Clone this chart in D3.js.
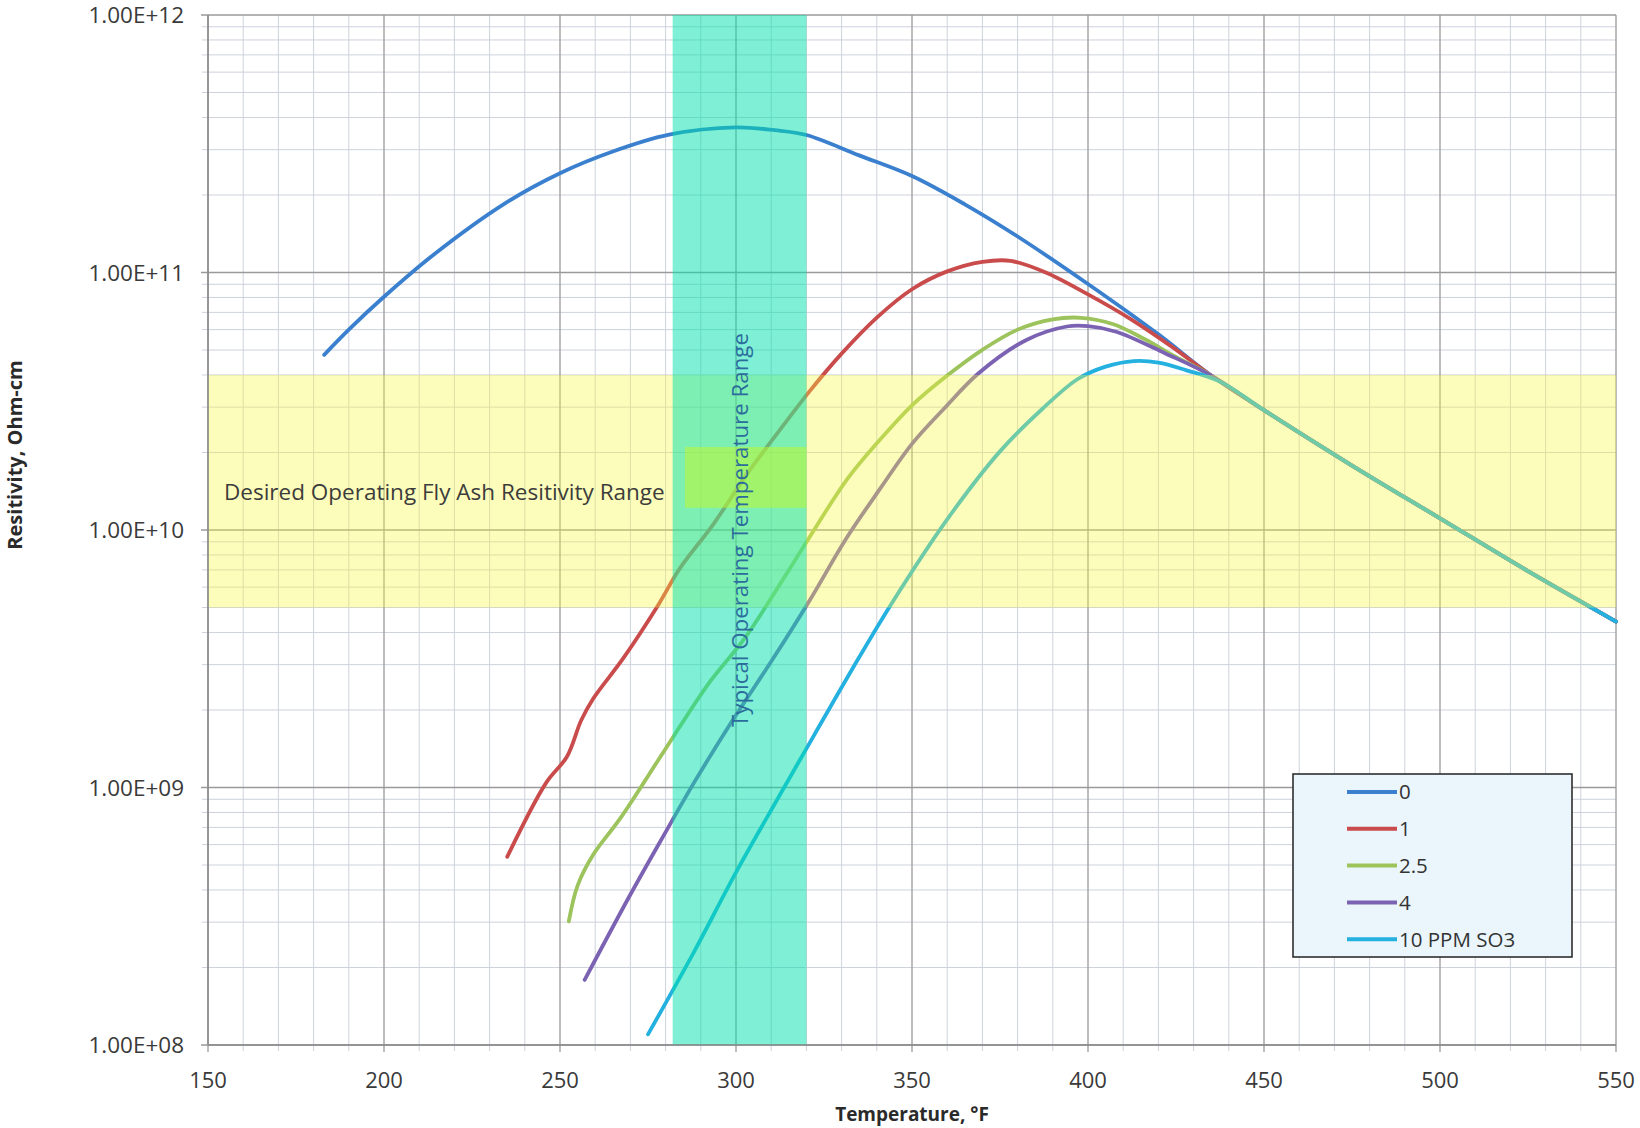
<!DOCTYPE html>
<html>

<head>
    <meta charset="UTF-8">
    <style>
        body { margin: 0; background: #fff; }
        svg { display: block; font-family: "Open Sans", sans-serif; }
    </style>
</head>

<body>
    <svg></svg>
    <script src="https://d3js.org/d3.v7.min.js"></script>

    <script>
        // series values (temperature °F, resistivity ohm-cm)
        let seriesNames = ["0", "1", "2.5", "4", "10 PPM SO3"];
        let seriesColors = ["#3a80cf", "#c94b4b", "#9cc35c", "#7c62b2", "#25b1e0"];

        let temps0 = [183, 190, 200, 214, 234.5, 250, 265, 281, 300, 311, 320, 335, 350, 365, 380, 400, 420, 435];
        let res0 = [4.79e10, 6.0e10, 8.05e10, 1.17e11, 1.86e11, 2.43e11, 2.95e11, 3.43e11, 3.66e11, 3.57e11, 3.42e11,
            2.85e11, 2.37e11, 1.84e11, 1.38e11, 9.02e10, 5.75e10, 3.98e10];

        let temps1 = [235, 246, 252, 256, 259.5, 268, 278, 284, 293.5, 303, 312, 321, 330, 340, 350, 360, 370, 378, 388, 400, 412, 424, 435];
        let res1 = [5.38e8, 1.04e9, 1.32e9, 1.82e9, 2.22e9, 3.18e9, 5.14e9, 7.08e9, 1.05e10, 1.64e10, 2.40e10, 3.47e10,
            4.84e10, 6.68e10, 8.61e10, 1.01e11, 1.10e11, 1.11e11, 1.0e11, 8.22e10, 6.61e10, 5.13e10, 3.98e10];

        let temps2 = [252.5, 255, 259.5, 267, 279.5, 292, 303, 320, 331.5, 341, 350, 360, 370, 380, 390, 398, 407, 416, 425, 435];
        let res2 = [3.02e8, 4.16e8, 5.5e8, 7.55e8, 1.38e9, 2.51e9, 3.89e9, 8.97e9, 1.57e10, 2.25e10, 3.05e10, 3.98e10,
            5.01e10, 6.0e10, 6.58e10, 6.67e10, 6.31e10, 5.52e10, 4.70e10, 3.98e10];

        let temps3 = [257, 270, 280, 288, 299, 310.5, 321, 331.5, 341, 350, 359, 369, 382.5, 394, 400, 408, 422, 435];
        let res3 = [1.79e8, 3.84e8, 6.71e8, 1.04e9, 1.82e9, 3.16e9, 5.35e9, 9.35e9, 1.45e10, 2.16e10, 2.95e10, 4.07e10,
            5.47e10, 6.17e10, 6.19e10, 5.89e10, 4.85e10, 3.98e10];

        let temps4 = [275, 288, 300, 312, 322, 333, 344, 360, 375, 387, 397, 405, 413, 420, 428, 437.5];
        let res4 = [1.1e8, 2.29e8, 4.68e8, 9.12e8, 1.58e9, 2.88e9, 5.13e9, 1.10e10, 2.02e10, 2.95e10, 3.85e10, 4.31e10,
            4.53e10, 4.47e10, 4.17e10, 3.77e10];

        // all curves share the same line above ~440 °F
        let tailTemps = [450, 475, 500, 525, 550];
        let tailRes = [2.92e10, 1.78e10, 1.11e10, 6.92e9, 4.41e9];

        // shaded ranges
        let tempRange = [282, 320];
        let resRange = [5e9, 4e10];
        let boxTemps = [285.5, 320];
        let boxRes = [1.22e10, 2.1e10];

        let xTicks = [150, 200, 250, 300, 350, 400, 450, 500, 550];
        let yTicks = [1e8, 1e9, 1e10, 1e11, 1e12];

        let width = 1640, height = 1128;

        let svg = d3.select("svg")
            .attr("width", width)
            .attr("height", height);

        let x = d3.scaleLinear().domain([150, 550]).range([208, 1616]);
        let y = d3.scaleLog().domain([1e8, 1e12]).range([1045, 15]);

        // grid values
        let minorX = d3.range(160, 550, 10).filter(t => t % 50 != 0);
        let minorY = [];
        for (let e = 8; e < 12; e++) {
            for (let k = 2; k <= 9; k++) minorY.push(k * Math.pow(10, e));
        }

        let grid = svg.append("g");
        grid.selectAll(".mx").data(minorX).join("line")
            .attr("x1", d => x(d)).attr("x2", d => x(d))
            .attr("y1", y(1e12)).attr("y2", y(1e8) + 6)
            .attr("stroke", "#cdd2dc").attr("stroke-width", 1);
        grid.selectAll(".my").data(minorY).join("line")
            .attr("x1", x(150) - 6).attr("x2", x(550))
            .attr("y1", d => y(d)).attr("y2", d => y(d))
            .attr("stroke", "#cdd2dc").attr("stroke-width", 1);
        grid.selectAll(".Mx").data(xTicks).join("line")
            .attr("x1", d => x(d)).attr("x2", d => x(d))
            .attr("y1", y(1e12)).attr("y2", y(1e8) + 7)
            .attr("stroke", "#9a9a9a").attr("stroke-width", 1.3);
        grid.selectAll(".My").data(yTicks).join("line")
            .attr("x1", x(150) - 7).attr("x2", x(550))
            .attr("y1", d => y(d)).attr("y2", d => y(d))
            .attr("stroke", "#9a9a9a").attr("stroke-width", 1.3);

        // curves
        let allTemps = [temps0, temps1, temps2, temps3, temps4];
        let allRes = [res0, res1, res2, res3, res4];
        let series = allTemps.map((t, i) => {
            let tt = t.concat(tailTemps);
            let rr = allRes[i].concat(tailRes);
            return tt.map((v, j) => ({ t: v, r: rr[j] }));
        });

        let line = d3.line()
            .x(d => x(d.t))
            .y(d => y(d.r))
            .curve(d3.curveCatmullRom.alpha(0.5));

        svg.append("g").selectAll("path")
            .data(series)
            .join("path")
            .attr("d", line)
            .attr("fill", "none")
            .attr("stroke", (d, i) => seriesColors[i])
            .attr("stroke-width", 3.8)
            .attr("stroke-linecap", "round")
            .attr("stroke-linejoin", "round");

        // shaded ranges over the curves
        svg.append("rect")
            .attr("x", x(150)).attr("width", x(550) - x(150))
            .attr("y", y(resRange[1])).attr("height", y(resRange[0]) - y(resRange[1]))
            .attr("fill", "rgb(250,250,60)").attr("fill-opacity", 0.35);
        svg.append("rect")
            .attr("x", x(tempRange[0])).attr("width", x(tempRange[1]) - x(tempRange[0]))
            .attr("y", y(1e12)).attr("height", y(1e8) - y(1e12))
            .attr("fill", "rgb(0,225,172)").attr("fill-opacity", 0.5);
        svg.append("rect")
            .attr("x", x(boxTemps[0])).attr("width", x(boxTemps[1]) - x(boxTemps[0]))
            .attr("y", y(boxRes[1])).attr("height", y(boxRes[0]) - y(boxRes[1]))
            .attr("fill", "rgb(190,245,50)").attr("fill-opacity", 0.55);

        // axis lines
        svg.append("line")
            .attr("x1", x(150)).attr("x2", x(150)).attr("y1", y(1e12)).attr("y2", y(1e8))
            .attr("stroke", "#8a8a8a").attr("stroke-width", 1.5);
        svg.append("line")
            .attr("x1", x(150)).attr("x2", x(550)).attr("y1", y(1e8)).attr("y2", y(1e8))
            .attr("stroke", "#8a8a8a").attr("stroke-width", 1.5);

        // tick labels
        svg.append("g").selectAll("text")
            .data(xTicks)
            .join("text")
            .attr("x", d => x(d))
            .attr("y", 1088)
            .attr("text-anchor", "middle")
            .attr("font-size", 22)
            .attr("fill", "#3a3a3a")
            .text(d => d);

        svg.append("g").selectAll("text")
            .data(yTicks)
            .join("text")
            .attr("x", 184)
            .attr("y", d => y(d))
            .attr("dy", "0.36em")
            .attr("text-anchor", "end")
            .attr("font-size", 22.5)
            .attr("fill", "#3a3a3a")
            .text(d => {
                let e = Math.round(Math.log10(d));
                return "1.00E+" + (e < 10 ? "0" + e : e);
            });

        // axis titles
        svg.append("text")
            .attr("x", (x(150) + x(550)) / 2)
            .attr("y", 1121)
            .attr("text-anchor", "middle")
            .attr("font-size", 19)
            .attr("font-weight", "bold")
            .attr("fill", "#2a2a2a")
            .text("Temperature, °F");

        svg.append("text")
            .attr("transform", "translate(22,455) rotate(-90)")
            .attr("text-anchor", "middle")
            .attr("font-size", 20)
            .attr("font-weight", "bold")
            .attr("fill", "#2a2a2a")
            .text("Resitivity, Ohm-cm");

        // range labels
        svg.append("text")
            .attr("x", 224)
            .attr("y", 500)
            .attr("font-size", 22.5)
            .attr("fill", "#3c3c3c")
            .text("Desired Operating Fly Ash Resitivity Range");

        svg.append("text")
            .attr("transform", "translate(748,530) rotate(-90)")
            .attr("text-anchor", "middle")
            .attr("font-size", 22.3)
            .attr("fill", "#2b6c9c")
            .text("Typical Operating Temperature Range");

        // legend
        let legend = svg.append("g").attr("transform", "translate(1293,774)");
        legend.append("rect")
            .attr("width", 279).attr("height", 183)
            .attr("fill", "#eaf6fc")
            .attr("stroke", "#222").attr("stroke-width", 1.5);
        let rows = legend.selectAll("g")
            .data(seriesNames)
            .join("g")
            .attr("transform", (d, i) => "translate(0," + (18 + i * 36.8) + ")");
        rows.append("line")
            .attr("x1", 54).attr("x2", 104)
            .attr("stroke", (d, i) => seriesColors[i])
            .attr("stroke-width", 4);
        rows.append("text")
            .attr("x", 106)
            .attr("dy", "0.36em")
            .attr("font-size", 20.5)
            .attr("fill", "#333")
            .text(d => d);
    </script>

</body>

</html>
